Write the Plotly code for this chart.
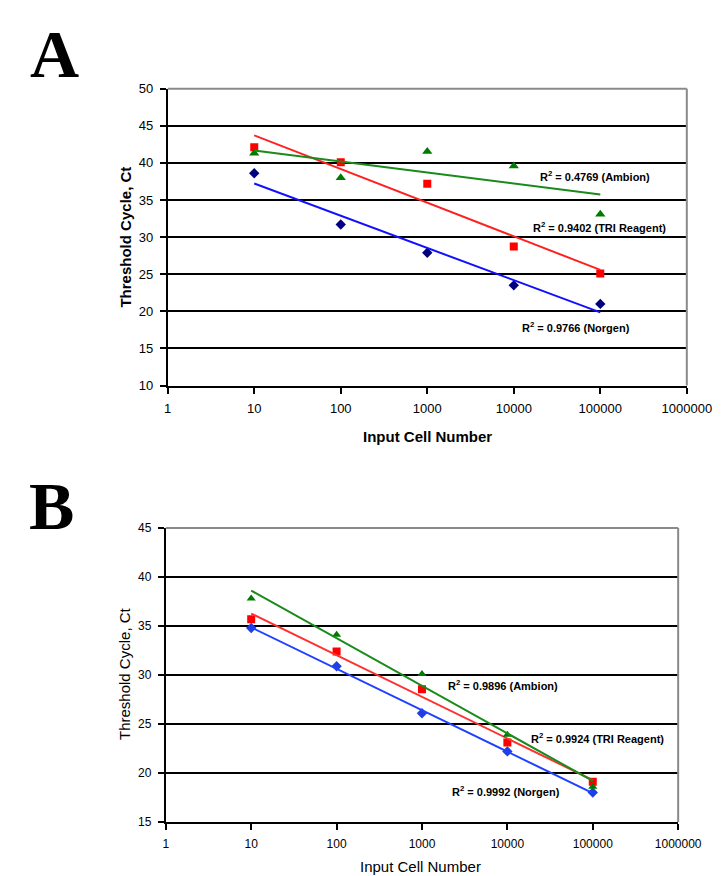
import numpy as np
import plotly.graph_objects as go

W, H = 723, 876

# ---------------- data ----------------
cells = [10, 100, 1000, 10000, 100000]
x_tick_vals = [1, 10, 100, 1000, 10000, 100000, 1000000]
x_tick_text = ["1", "10", "100", "1000", "10000", "100000", "1000000"]

# Panel A
a_norgen = [38.6, 31.7, 27.9, 23.5, 21.0]
a_tri = [42.1, 40.1, 37.2, 28.75, 25.1]
a_ambion = [41.3, 38.0, 41.55, 39.6, 33.1]
a_r2 = {"ambion": "0.4769", "tri": "0.9402", "norgen": "0.9766"}

# Panel B
b_norgen = [34.8, 30.9, 26.1, 22.2, 18.0]
b_tri = [35.7, 32.4, 28.55, 23.1, 19.1]
b_ambion = [37.8, 34.1, 30.1, 23.9, 18.6]
b_r2 = {"ambion": "0.9896", "tri": "0.9924", "norgen": "0.9992"}

FONT = "Liberation Sans, Arial, sans-serif"
SERIF = "Liberation Serif, Times New Roman, serif"


def px_x(x):
    return x / W


def px_y(y):
    return 1 - y / H


def trend(xs, ys):
    lx = np.log10(xs)
    k, b = np.polyfit(lx, ys, 1)
    ends = [min(xs), max(xs)]
    return ends, [k * np.log10(e) + b for e in ends]


fig = go.Figure()

series_a = [
    (a_norgen, "#000080", "#1010ff", "diamond", 8),
    (a_tri, "#ff0000", "#ff2020", "square", 8),
    (a_ambion, "#007a00", "#1a8a1a", "triangle-up", 9),
]
series_b = [
    (b_norgen, "#1f3fe0", "#2040ff", "diamond", 8),
    (b_tri, "#ff0000", "#ff3030", "square", 8),
    (b_ambion, "#007a00", "#1a8a1a", "triangle-up", 8),
]

for (ys, mc, lc, sym, ms) in series_a:
    tx, ty = trend(cells, ys)
    fig.add_trace(go.Scatter(x=cells, y=ys, mode="markers",
                             marker=dict(symbol=sym, color=mc, size=ms),
                             xaxis="x", yaxis="y", showlegend=False))
    fig.add_trace(go.Scatter(x=tx, y=ty, mode="lines",
                             line=dict(color=lc, width=2),
                             xaxis="x", yaxis="y", showlegend=False))

for (ys, mc, lc, sym, ms) in series_b:
    tx, ty = trend(cells, ys)
    fig.add_trace(go.Scatter(x=cells, y=ys, mode="markers",
                             marker=dict(symbol=sym, color=mc, size=ms),
                             xaxis="x2", yaxis="y2", showlegend=False))
    fig.add_trace(go.Scatter(x=tx, y=ty, mode="lines",
                             line=dict(color=lc, width=2),
                             xaxis="x2", yaxis="y2", showlegend=False))

# plot areas (pixels)
A_L, A_R, A_T, A_B = 162, 702, 75, 377
B_L, B_R, B_T, B_B = 160, 693, 522, 821

xcommon = dict(type="log", range=[0, 6], tickvals=x_tick_vals, ticktext=x_tick_text,
               showgrid=False, showline=True, linecolor="black", linewidth=2,
               ticks="outside", ticklen=6, tickcolor="black", tickwidth=2,
               zeroline=False, ticklabelstandoff=4)
ycommon = dict(showgrid=True, gridcolor="black", gridwidth=2,
               showline=True, linecolor="black", linewidth=2,
               ticks="outside", ticklen=6, tickcolor="black", tickwidth=2,
               zeroline=False, dtick=5, ticklabelstandoff=4)

fig.update_layout(
    width=W, height=H,
    margin=dict(l=0, r=0, t=0, b=0),
    paper_bgcolor="white", plot_bgcolor="white",
    xaxis=dict(domain=[px_x(A_L), px_x(A_R)], anchor="y",
               tickfont=dict(family=FONT, size=13, color="black"), **xcommon),
    yaxis=dict(domain=[px_y(A_B), px_y(A_T)], anchor="x", range=[10, 50],
               tickfont=dict(family=FONT, size=13, color="black"), **ycommon),
    xaxis2=dict(domain=[px_x(B_L), px_x(B_R)], anchor="y2",
                tickfont=dict(family=FONT, size=12, color="black"), **xcommon),
    yaxis2=dict(domain=[px_y(B_B), px_y(B_T)], anchor="x2", range=[15, 45],
                tickfont=dict(family=FONT, size=12, color="black"), **ycommon),
)

# gray top/right border
for xr, yr in (("x domain", "y domain"), ("x2 domain", "y2 domain")):
    fig.add_shape(type="line", xref=xr, yref=yr, x0=0, x1=1, y0=1, y1=1,
                  line=dict(color="#8a8a8a", width=2), layer="above")
    fig.add_shape(type="line", xref=xr, yref=yr, x0=1, x1=1, y0=0, y1=1,
                  line=dict(color="#8a8a8a", width=2), layer="above")

ann = []


def text(x, y, s, size, bold=False, family=FONT, xanchor="center", angle=0):
    ann.append(dict(x=px_x(x), y=px_y(y), xref="paper", yref="paper",
                    text=f"<b>{s}</b>" if bold else s, showarrow=False,
                    xanchor=xanchor, yanchor="middle", textangle=angle,
                    font=dict(family=family, size=size, color="black")))


# panel letters
text(44, 40, "A", 68, bold=True, family=SERIF)
text(41, 500, "B", 68, bold=True, family=SERIF)

# axis titles
text(118, 226, "Threshold Cycle, Ct", 15, bold=True, angle=-90)
text(432, 429, "Input Cell Number", 15, bold=True)
text(117, 670, "Threshold Cycle, Ct", 15, angle=-90)
text(425, 866, "Input Cell Number", 15)

# R^2 labels
text(547, 164, f"R<sup>2</sup> = {a_r2['ambion']} (Ambion)", 11, bold=True, xanchor="left")
text(540, 216, f"R<sup>2</sup> = {a_r2['tri']} (TRI Reagent)", 11, bold=True, xanchor="left")
text(528, 317, f"R<sup>2</sup> = {a_r2['norgen']} (Norgen)", 11, bold=True, xanchor="left")
text(452, 682, f"R<sup>2</sup> = {b_r2['ambion']} (Ambion)", 11, bold=True, xanchor="left")
text(538, 736, f"R<sup>2</sup> = {b_r2['tri']} (TRI Reagent)", 11, bold=True, xanchor="left")
text(456, 790, f"R<sup>2</sup> = {b_r2['norgen']} (Norgen)", 11, bold=True, xanchor="left")

fig.update_layout(annotations=ann)

fig.write_html("out.html")
